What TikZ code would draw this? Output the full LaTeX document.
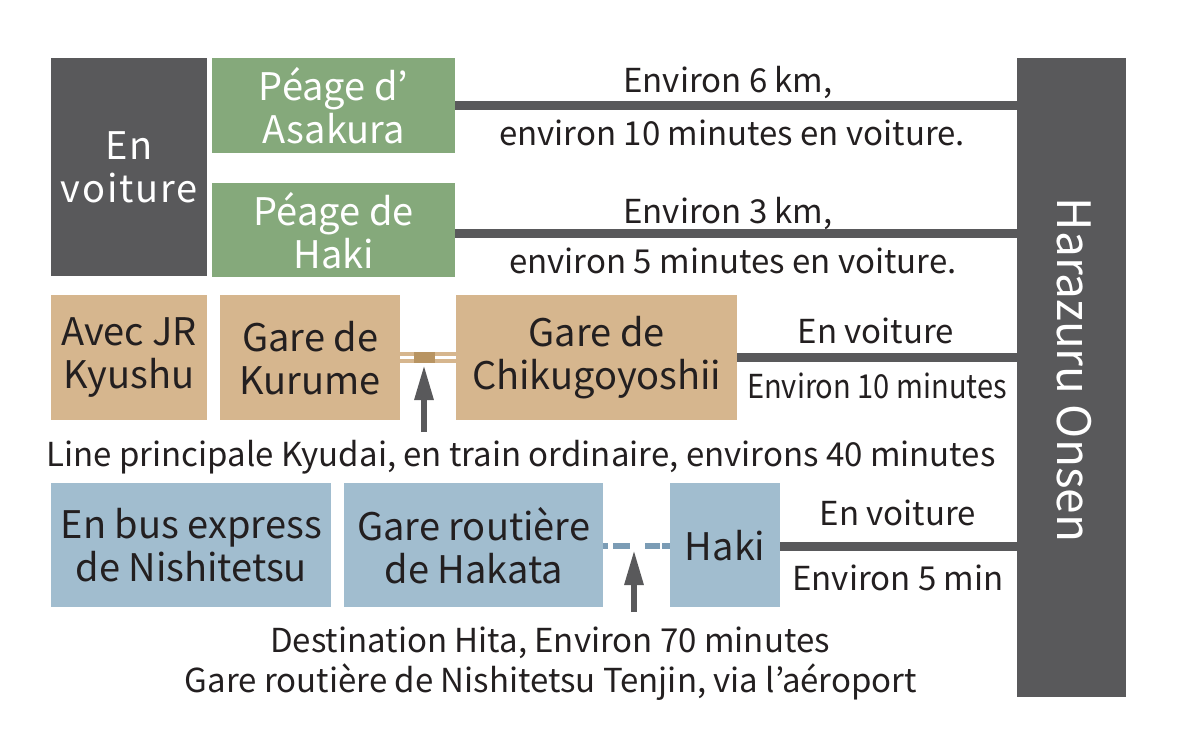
\documentclass[tikz,border=0pt]{standalone}
\usepackage{fontspec}
\setmainfont{Noto Sans CJK JP}
\usetikzlibrary{arrows.meta}
\definecolor{dgray}{HTML}{59595B}
\definecolor{pgreen}{HTML}{85A97B}
\definecolor{ptan}{HTML}{D6B68E}
\definecolor{rtan}{HTML}{B89462}
\definecolor{pblue}{HTML}{A1BDCF}
\definecolor{dblue}{HTML}{7B9CB5}
\definecolor{txt}{HTML}{231F20}
\tikzset{
  box/.style={anchor=north west, inner sep=0pt, align=center, font=\fontsize{38}{43}\selectfont},
  darkbox/.style={box, fill=dgray, text=white, font=\fontsize{38}{43}\selectfont\addfontfeature{LetterSpace=5}},
  greenbox/.style={box, fill=pgreen, text=white},
  tanbox/.style={box, fill=ptan, text=txt},
  bluebox/.style={box, fill=pblue, text=txt},
  lbl/.style={anchor=base, inner sep=0pt, text=txt, font=\fontsize{33}{40}\selectfont},
  road/.style={draw=dgray, line width=9pt},
  upArrow/.style={draw=dgray, line width=6pt, -{Triangle[length=35pt,width=18pt]}},
}
\begin{document}
\begin{tikzpicture}[x=1pt,y=-1pt]
\useasboundingbox (0,0) rectangle (1195,740);
% boxes
\node[darkbox, minimum width=156pt, minimum height=218pt] (car) at (51,58) {En\\voiture};
\node[greenbox, minimum width=243pt, minimum height=95pt] (asakura) at (212,58) {Péage d’\\Asakura};
\node[greenbox, minimum width=243pt, minimum height=94pt] (hakitoll) at (212,183) {Péage de\\Haki};
\node[tanbox, minimum width=156pt, minimum height=125pt] (jr) at (51,295) {Avec JR\\Kyushu};
\node[tanbox, minimum width=180pt, minimum height=125pt] (kurume) at (220,295) {Gare de\\Kurume};
\node[tanbox, minimum width=281pt, minimum height=125pt] (chiku) at (456,295) {Gare de\\Chikugoyoshii};
\node[bluebox, minimum width=280pt, minimum height=124pt] (bus) at (51,483) {En bus express\\de Nishitetsu};
\node[bluebox, minimum width=259pt, minimum height=124pt] (hakata) at (344,483) {Gare routière\\de Hakata};
\node[bluebox, minimum width=110pt, minimum height=124pt] (hakibus) at (670,483) {Haki};
\node[box, fill=dgray, minimum width=109pt, minimum height=639pt] (onsen) at (1017,58) {};
\node[text=white, rotate=-90, anchor=base, inner sep=0pt, font=\fontsize{46}{50}\selectfont] (onsentext) at (1057,370) {Harazuru Onsen};
% roads
\draw[road] (asakura.east |- 0,105) -- (onsen.west |- 0,105);
\draw[road] (hakitoll.east |- 0,233) -- (onsen.west |- 0,233);
\draw[road] (chiku.east |- 0,357) -- (onsen.west |- 0,357);
\draw[road] (hakibus.east |- 0,546) -- (onsen.west |- 0,546);
% rail
\draw[draw=ptan, line width=11pt] (kurume.east |- 0,357.5) -- (chiku.west |- 0,357.5);
\draw[draw=white, line width=3pt] (kurume.east |- 0,357.5) -- (chiku.west |- 0,357.5);
\fill[rtan] (414,352) rectangle (435,363);
% bus dashed
\draw[draw=dblue, line width=6pt, dash pattern=on 5pt off 5pt on 17pt off 15pt on 15pt off 2pt on 8pt] (hakata.east |- 0,546) -- (hakibus.west |- 0,546);
% labels
\node[lbl] (l1) at (728,92) {Environ 6 km,};
\node[lbl] (l2) at (732,145) {environ 10 minutes en voiture.};
\node[lbl] (l3) at (728,223) {Environ 3 km,};
\node[lbl] (l4) at (733,273) {environ 5 minutes en voiture.};
\node[lbl] (l5) at (876,343) {En voiture};
\node[lbl, xscale=0.88] (l6) at (877,398) {Environ 10 minutes};
\node[lbl] (l7) at (898,525) {En voiture};
\node[lbl] (l8) at (898,590) {Environ 5 min};
\node[lbl] (train) at (521,466) {Line principale Kyudai, en train ordinaire, environs 40 minutes};
\node[lbl] (d1) at (550,652) {Destination Hita, Environ 70 minutes};
\node[lbl] (d2) at (551,692) {Gare routière de Nishitetsu Tenjin, via l’aéroport};
% arrows
\coordinate (ta) at (424,432);
\coordinate (tb) at (424,365);
\draw[upArrow] (ta) -- (tb);
\coordinate (ba) at (634,612);
\coordinate (bb) at (634,550);
\draw[upArrow] (ba) -- (bb);
\end{tikzpicture}
\end{document}
